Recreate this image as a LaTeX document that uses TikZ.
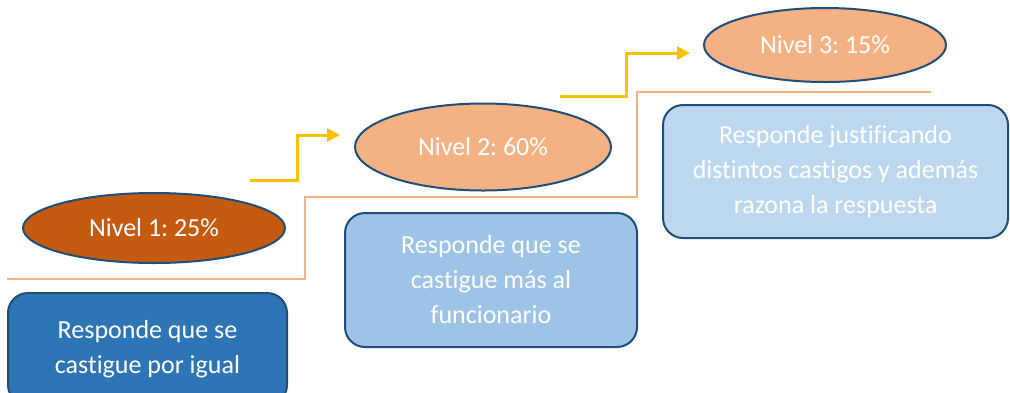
\documentclass[tikz,border=0pt]{standalone}
\usepackage{fontspec}
\setmainfont[Ligatures=NoCommon]{Carlito}
\usepackage{xcolor}
\usetikzlibrary{shapes.geometric,arrows.meta}
\definecolor{nivelA}{HTML}{C55A11}
\definecolor{nivelB}{HTML}{F4B183}
\definecolor{bordeA}{HTML}{1F4E79}
\definecolor{cajaA}{HTML}{2E75B6}
\definecolor{cajaB}{HTML}{9DC3E6}
\definecolor{cajaC}{HTML}{BDD7EE}
\definecolor{flecha}{HTML}{FFC000}
\frenchspacing

\begin{document}
\begin{tikzpicture}[x=1pt, y=-1pt,
    nivel/.style={ellipse, draw=bordeA, line width=2pt, inner sep=0pt, text=white,
        font=\fontsize{26}{33}\selectfont},
    caja/.style={rectangle, rounded corners=20pt, draw=bordeA, line width=2pt, inner sep=0pt,
        align=center, text=white, font=\fontsize{26}{35}\selectfont},
    escalon/.style={draw=nivelB, line width=2pt},
    subida/.style={draw=flecha, line width=3pt, -{Triangle[length=13pt,width=13pt]}}]
                \useasboundingbox (0,0) rectangle (1010,392);
                \node[nivel, fill=nivelA, minimum width=262, minimum height=70] (n1) at (154,228) {Nivel 1: 25\%};
                \node[nivel, fill=nivelB, minimum width=256, minimum height=87] (n2) at (483,147) {Nivel 2: 60\%};
                \node[nivel, fill=nivelB, minimum width=242, minimum height=74] (n3) at (825,45) {Nivel 3: 15\%};
                \node[caja, fill=cajaA, minimum width=279, minimum height=112] (r1) at (147.5,349)
                    {\raisebox{4pt}{\parbox{279pt}{\centering Responde que se\\castigue por igual}}};
                \node[caja, fill=cajaB, minimum width=292, minimum height=134] (r2) at (491,280)
                    {Responde que se\\castigue más al\\funcionario};
                \node[caja, fill=cajaC, minimum width=345, minimum height=133] (r3) at (835.5,171.5)
                    {Responde justificando\\distintos castigos y además\\razona la respuesta};
                \coordinate (s0) at (7,279);
                \coordinate (s1) at (931,92);
                \draw[escalon] (s0) -- (305,279) -- (305,197) -- (637,197) -- (637,92) -- (s1);
                \coordinate (a1) at (250,180);
                \coordinate (b1) at (340,135);
                \coordinate (a2) at (560,96);
                \coordinate (b2) at (690,53);
                \draw[subida] (a1) -| (297,135) -- (b1);
                \draw[subida] (a2) -| (626,53) -- (b2);
            \end{tikzpicture}
\end{document}
